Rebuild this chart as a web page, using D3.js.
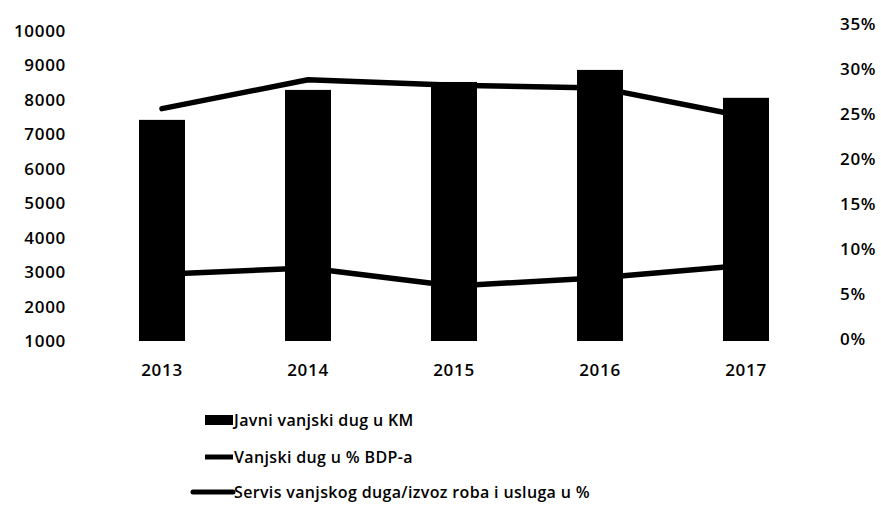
<!DOCTYPE html>
<html>
<head>
<meta charset="utf-8">
<script src="https://cdn.jsdelivr.net/npm/d3@7"></script>
<style>
  html, body { margin: 0; padding: 0; background: #fff; }
  svg { display: block; }
  text { font-family: "Open Sans", sans-serif; font-weight: 600; fill: #000; }
</style>
</head>
<body>
<svg id="chart" width="881" height="513"></svg>
<script>
// ---- data ----
const years = ["2013", "2014", "2015", "2016", "2017"];
const debtKM = [7420, 8290, 8520, 8870, 8060];          // Javni vanjski dug u KM
const debtGDP = [25.6, 28.8, 28.2, 27.9, 24.7];          // Vanjski dug u % BDP-a
const debtService = [7.2, 7.9, 5.9, 6.8, 8.2];           // Servis vanjskog duga/izvoz roba i usluga u %
const leftTicks = [1000, 2000, 3000, 4000, 5000, 6000, 7000, 8000, 9000, 10000];
const rightTicks = [0, 5, 10, 15, 20, 25, 30, 35];
const legendLabels = ["Javni vanjski dug u KM", "Vanjski dug u % BDP-a", "Servis vanjskog duga/izvoz roba i usluga u %"];

const svg = d3.select("#chart");

const x = d3.scaleBand().domain(years).range([89, 819]).paddingInner(0.685).paddingOuter(0.3425);
const yL = d3.scaleLinear().domain([1000, 10000]).range([341, 31]);
const yR = d3.scaleLinear().domain([0, 35]).range([339, 24]);

// lines (behind bars)
const line = d3.line().x((d, i) => x(years[i]) + x.bandwidth() / 2).y(d => yR(d));
[debtGDP, debtService].forEach(s => {
  svg.append("path").datum(s)
    .attr("d", line)
    .attr("fill", "none").attr("stroke", "#000")
    .attr("stroke-width", 5.5).attr("stroke-linecap", "round").attr("stroke-linejoin", "round");
});

// bars
svg.append("g").selectAll("rect").data(debtKM).join("rect")
  .attr("x", (d, i) => x(years[i]))
  .attr("width", x.bandwidth())
  .attr("y", d => yL(d))
  .attr("height", d => yL(1000) - yL(d))
  .attr("fill", "#000");

function styleTicks(g) {
  g.select(".domain").remove();
  g.selectAll("text")
    .style("font-size", "17px")
    .style("font-family", "'Open Sans', sans-serif")
    .style("font-weight", 600)
    .style("letter-spacing", "0.7px")
    .attr("fill", "#000");
}

// left axis
const gL = svg.append("g").attr("transform", "translate(66,0)")
  .call(d3.axisLeft(yL).tickValues(leftTicks).tickSize(0).tickPadding(0).tickFormat(d3.format("d")));
styleTicks(gL);

// right axis
const gR = svg.append("g").attr("transform", "translate(840,0)")
  .call(d3.axisRight(yR).tickValues(rightTicks).tickSize(0).tickPadding(0).tickFormat(d => d + "%"));
styleTicks(gR);

// x axis
const gX = svg.append("g").attr("transform", "translate(0,364)")
  .call(d3.axisBottom(x).tickSize(0).tickPadding(0));
styleTicks(gX);

// legend
const lg = svg.append("g");
const rows = [420, 457, 492];
lg.append("rect").attr("x", 205).attr("y", rows[0] - 5).attr("width", 28).attr("height", 10).attr("fill", "#000");
lg.append("line").attr("x1", 205).attr("x2", 233).attr("y1", rows[1]).attr("y2", rows[1])
  .attr("stroke", "#000").attr("stroke-width", 5);
lg.append("line").attr("x1", 193).attr("x2", 233).attr("y1", rows[2]).attr("y2", rows[2])
  .attr("stroke", "#000").attr("stroke-width", 5).attr("stroke-linecap", "round");
lg.selectAll("text.leg").data(legendLabels).join("text")
  .attr("class", "leg")
  .attr("x", 234)
  .attr("y", (d, i) => rows[i])
  .attr("dy", "0.35em")
  .style("font-size", "16px")
  .style("font-weight", 600)
  .style("letter-spacing", "0.35px")
  .text(d => d);
</script>
</body>
</html>
